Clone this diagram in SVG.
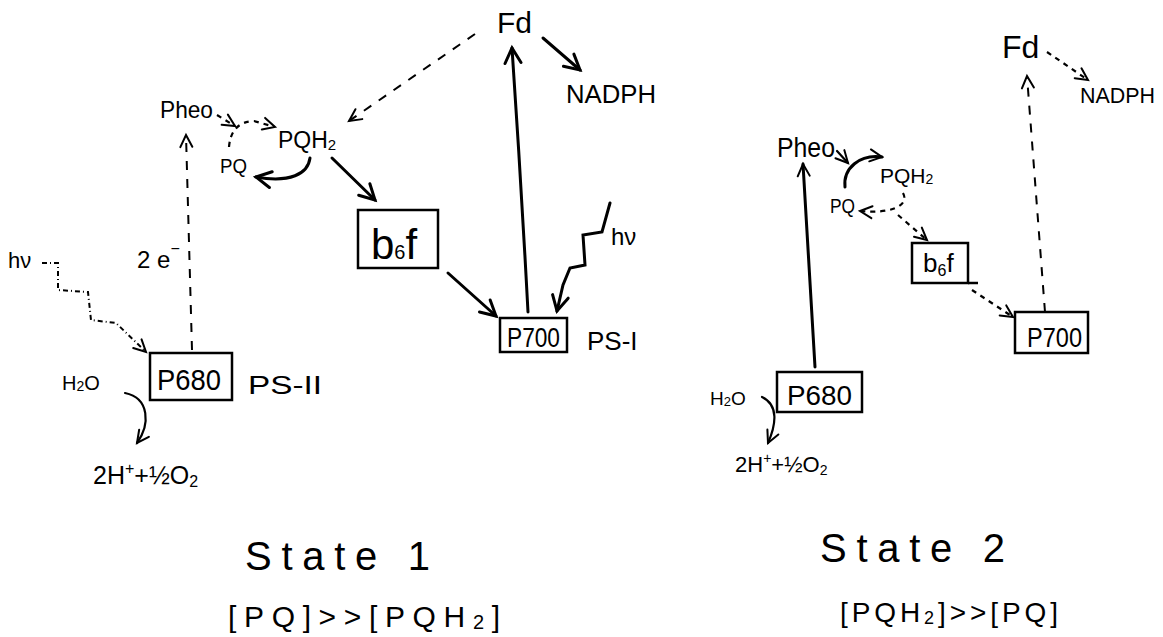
<svg xmlns="http://www.w3.org/2000/svg" width="1163" height="637" viewBox="0 0 1163 637">
<defs>
<style>
text{font-family:"Liberation Sans","DejaVu Sans",sans-serif;fill:#000}
.box{fill:none;stroke:#000;stroke-width:2.5}
.s{fill:none;stroke:#000;stroke-width:3;stroke-linecap:round}
.sl{fill:none;stroke:#000;stroke-width:2.2;stroke-linecap:round}
.d{fill:none;stroke:#000;stroke-width:2;stroke-dasharray:9 9}
.dd{fill:none;stroke:#000;stroke-width:2.2;stroke-dasharray:5 5}
.dot{fill:none;stroke:#000;stroke-width:2;stroke-dasharray:5 3 1 3}
</style>
<marker id="ah" markerUnits="userSpaceOnUse" markerWidth="24" markerHeight="24" refX="18" refY="10" orient="auto" viewBox="0 0 24 20">
<path d="M3,2 L18,10 L3,18" fill="none" stroke="#000" stroke-width="3" stroke-linecap="round"/>
</marker>
<marker id="ahs" markerUnits="userSpaceOnUse" markerWidth="18" markerHeight="18" refX="14" refY="8" orient="auto" viewBox="0 0 18 16">
<path d="M2,2 L14,8 L2,14" fill="none" stroke="#000" stroke-width="2" stroke-linecap="round"/>
</marker>
</defs>
<rect width="1163" height="637" fill="#fff"/>

<g id="connectors">
<!-- State 1 -->
<path class="s" d="M543,38 L580,70" marker-end="url(#ah)"/>
<path class="d" d="M475,34 L349,121" marker-end="url(#ahs)"/>
<path class="s" d="M528,312 Q521,180 512,48" marker-end="url(#ah)"/>
<polyline class="s" points="610,203 602,232 583,235 585,265 570,268 563,285 557,311" marker-end="url(#ah)"/>
<path class="s" d="M448,273 L496,316" marker-end="url(#ah)"/>
<path class="s" d="M332,158 L375,200" marker-end="url(#ah)"/>
<path class="s" d="M310,158 C308,174 290,183 256,177" marker-end="url(#ah)"/>
<path class="dd" d="M217,115 L235,126" marker-end="url(#ahs)"/>
<path class="dd" d="M229,147 Q231,122 254,121 L275,127" marker-end="url(#ahs)"/>
<path class="d" d="M192,350 L186,135" marker-end="url(#ahs)"/>
<polyline class="dot" points="42,263 58,263 58,290 88,292 91,320 116,323 146,352" marker-end="url(#ahs)"/>
<path class="sl" d="M125,393 C150,398 150,425 137,443" marker-end="url(#ahs)"/>
<!-- State 2 -->
<path class="dd" d="M1047,52 L1088,80" marker-end="url(#ahs)"/>
<path class="d" d="M1045,312 L1027,76" marker-end="url(#ahs)"/>
<path class="s" d="M815,367 L803,164" marker-end="url(#ahs)"/>
<path class="sl" d="M837,151 L848,163" marker-end="url(#ahs)"/>
<path class="s" d="M845,187 C843,168 860,154 882,157" marker-end="url(#ahs)"/>
<path class="dd" d="M903,193 C910,206 890,214 860,211" marker-end="url(#ahs)"/>
<path class="dd" d="M898,215 L927,240" marker-end="url(#ahs)"/>
<path class="dd" d="M972,290 L1013,317" marker-end="url(#ahs)"/>
<path class="sl" d="M762,397 C779,405 776,425 768,443" marker-end="url(#ahs)"/>
</g>

<!-- State 1 nodes -->
<g id="fd1"><text x="497" y="33" font-size="30">Fd</text></g>
<g id="nadph1"><text x="566" y="103" font-size="25" textLength="90" lengthAdjust="spacingAndGlyphs">NADPH</text></g>
<g id="pheo1"><text x="160" y="118" font-size="24" textLength="53" lengthAdjust="spacingAndGlyphs">Pheo</text></g>
<g id="pqh2_1"><text x="278" y="148" font-size="23">PQH<tspan font-size="15" dy="2">2</tspan></text></g>
<g id="pq1"><text x="220" y="173" font-size="21" textLength="27" lengthAdjust="spacingAndGlyphs">PQ</text></g>
<g id="b6f1"><rect class="box" x="358" y="210" width="80" height="58"/><text x="371" y="259" font-size="42">b<tspan font-size="20" dy="0">6</tspan><tspan dy="0">f</tspan></text></g>
<g id="p700_1"><rect class="box" x="500" y="318" width="67" height="34"/><text x="507" y="347" font-size="28" textLength="53" lengthAdjust="spacingAndGlyphs">P700</text><text x="587" y="350" font-size="26">PS-I</text></g>
<g id="hv1b"><text x="611" y="245" font-size="24">hν</text></g>
<g id="p680_1"><rect class="box" x="150" y="353" width="82" height="47"/><text x="157" y="390" font-size="30" textLength="64" lengthAdjust="spacingAndGlyphs">P680</text><text x="248" y="394" font-size="25" textLength="74" lengthAdjust="spacingAndGlyphs">PS-II</text></g>
<g id="hv1a"><text x="8" y="268" font-size="22">hν</text></g>
<g id="e1"><text x="137" y="268" font-size="24">2 e<tspan font-size="16" dy="-14">−</tspan></text></g>
<g id="h2o1"><text x="62" y="390" font-size="20">H<tspan font-size="14" dy="1">2</tspan><tspan dy="-1">O</tspan></text></g>
<g id="prod1"><text x="93" y="484" font-size="25">2H<tspan font-size="16" dy="-10">+</tspan><tspan dy="10">+½O</tspan><tspan font-size="16" dy="3">2</tspan></text></g>
<g id="state1"><text x="245" y="570" font-size="40" textLength="185" lengthAdjust="spacing">State 1</text>
<text x="228" y="627" font-size="30" textLength="272" lengthAdjust="spacing">[PQ]&gt;&gt;[PQH<tspan font-size="20" dy="2">2</tspan><tspan dy="-2">]</tspan></text></g>

<!-- State 2 nodes -->
<g id="fd2"><text x="1002" y="58" font-size="32">Fd</text></g>
<g id="nadph2"><text x="1080" y="103" font-size="22" textLength="75" lengthAdjust="spacingAndGlyphs">NADPH</text></g>
<g id="pheo2"><text x="777" y="157" font-size="28" textLength="58" lengthAdjust="spacingAndGlyphs">Pheo</text></g>
<g id="pqh2_2"><text x="880" y="183" font-size="21">PQH<tspan font-size="14" dy="1">2</tspan></text></g>
<g id="pq2"><text x="830" y="213" font-size="21" textLength="25" lengthAdjust="spacingAndGlyphs">PQ</text></g>
<g id="b6f2"><rect class="box" x="912" y="243" width="56" height="40"/><path class="box" d="M968,283 L978,283"/><text x="923" y="272" font-size="26">b<tspan font-size="16" dy="4">6</tspan><tspan dy="-4">f</tspan></text></g>
<g id="p700_2"><rect class="box" x="1015" y="312" width="73" height="41"/><text x="1027" y="347" font-size="28" textLength="55" lengthAdjust="spacingAndGlyphs">P700</text></g>
<g id="p680_2"><rect class="box" x="777" y="372" width="85" height="40"/><text x="787" y="405" font-size="28" textLength="65" lengthAdjust="spacingAndGlyphs">P680</text></g>
<g id="h2o2"><text x="710" y="405" font-size="19">H<tspan font-size="13" dy="1">2</tspan><tspan dy="-1">O</tspan></text></g>
<g id="prod2"><text x="735" y="472" font-size="22">2H<tspan font-size="14" dy="-9">+</tspan><tspan dy="9">+½O</tspan><tspan font-size="14" dy="3">2</tspan></text></g>
<g id="state2"><text x="820" y="562" font-size="40" textLength="185" lengthAdjust="spacing">State 2</text>
<text x="840" y="622" font-size="28" textLength="218" lengthAdjust="spacing">[PQH<tspan font-size="18" dy="2">2</tspan><tspan dy="-2">]&gt;&gt;[PQ]</tspan></text></g>
</svg>
